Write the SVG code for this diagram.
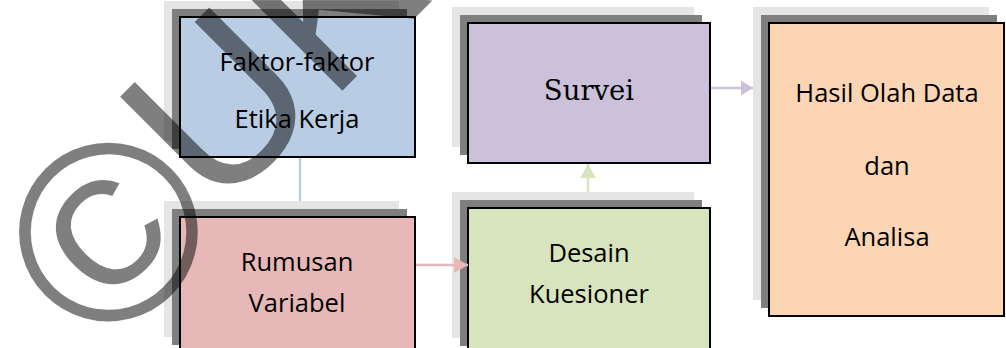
<svg xmlns="http://www.w3.org/2000/svg" width="1006" height="348" viewBox="0 0 1006 348">
<style>
.sh1{fill:#e5e5e5}
.sh2{fill:#7f7f7f}
.box{stroke:#000;stroke-width:2}
.lbl{font-family:"Open Sans",Lato,"Liberation Sans",sans-serif;font-size:25.5px;fill:#000;text-anchor:middle}
.ser{font-family:"DejaVu Serif","Liberation Serif",serif;font-size:27.5px;fill:#000;text-anchor:middle}
.wm{font-family:"Liberation Sans",Arial,sans-serif;fill:#000;fill-opacity:0.5}
</style>
<defs>
<marker id="aR" markerWidth="14" markerHeight="16" refX="14" refY="8" orient="auto" markerUnits="userSpaceOnUse"><path d="M0,0 L14,8 L0,16 Z" fill="#e6b9b8"/></marker>
<marker id="aG" markerWidth="14" markerHeight="16" refX="14" refY="8" orient="auto" markerUnits="userSpaceOnUse"><path d="M0,0 L14,8 L0,16 Z" fill="#d7e4bd"/></marker>
<marker id="aP" markerWidth="12" markerHeight="15" refX="12" refY="7.5" orient="auto" markerUnits="userSpaceOnUse"><path d="M0,0 L12,7.5 L0,15 Z" fill="#ccc1da"/></marker>
</defs>
<g id="faktor">
<rect class="sh1" x="164" y="1" width="235" height="140"/>
<rect class="sh2" x="172" y="9" width="235" height="140"/>
<rect class="box" x="180" y="17" width="235" height="140" fill="#b8cce4"/>
<text class="lbl" x="297" y="71">Faktor-faktor</text>
<text class="lbl" x="297" y="128">Etika Kerja</text>
</g>
<g id="rumusan">
<rect class="sh1" x="164" y="201" width="235" height="136"/>
<rect class="sh2" x="172" y="209" width="235" height="136"/>
<rect class="box" x="180" y="217" width="235" height="136" fill="#e6b9b8"/>
<text class="lbl" x="297" y="271">Rumusan</text>
<text class="lbl" x="297" y="312">Variabel</text>
</g>
<g id="survei">
<rect class="sh1" x="452" y="7" width="242" height="140"/>
<rect class="sh2" x="460" y="15" width="242" height="140"/>
<rect class="box" x="468" y="23" width="242" height="140" fill="#ccc1da"/>
<text class="ser" x="589" y="100">Survei</text>
</g>
<g id="desain">
<rect class="sh1" x="452" y="192" width="242" height="146"/>
<rect class="sh2" x="460" y="200" width="242" height="146"/>
<rect class="box" x="468" y="208" width="242" height="146" fill="#d7e4bd"/>
<text class="lbl" x="589" y="262">Desain</text>
<text class="lbl" x="589" y="303">Kuesioner</text>
</g>
<g id="hasil">
<rect class="sh1" x="753" y="7" width="236" height="293"/>
<rect class="sh2" x="761" y="15" width="236" height="293"/>
<rect class="box" x="769" y="23" width="235" height="293" fill="#fcd5b5"/>
<text class="lbl" x="887" y="102">Hasil Olah Data</text>
<text class="lbl" x="887" y="175">dan</text>
<text class="lbl" x="887" y="246">Analisa</text>
</g>
<g id="connectors">
<line x1="300" y1="158" x2="300" y2="201" stroke="#b8cce4" stroke-width="2.5"/>
<line x1="416" y1="265" x2="468" y2="265" stroke="#e6b9b8" stroke-width="2.5" marker-end="url(#aR)"/>
<line x1="588" y1="192" x2="588" y2="164" stroke="#d7e4bd" stroke-width="2.5" marker-end="url(#aG)"/>
<line x1="711" y1="88" x2="753" y2="88" stroke="#ccc1da" stroke-width="2.5" marker-end="url(#aP)"/>
</g>
<g id="watermark" transform="translate(98,226) rotate(-45)">
<text class="wm" x="3" y="99" font-size="253" text-anchor="middle">©</text>
<text class="wm" x="90" y="77" font-size="222">UKDW</text>
</g>
</svg>
